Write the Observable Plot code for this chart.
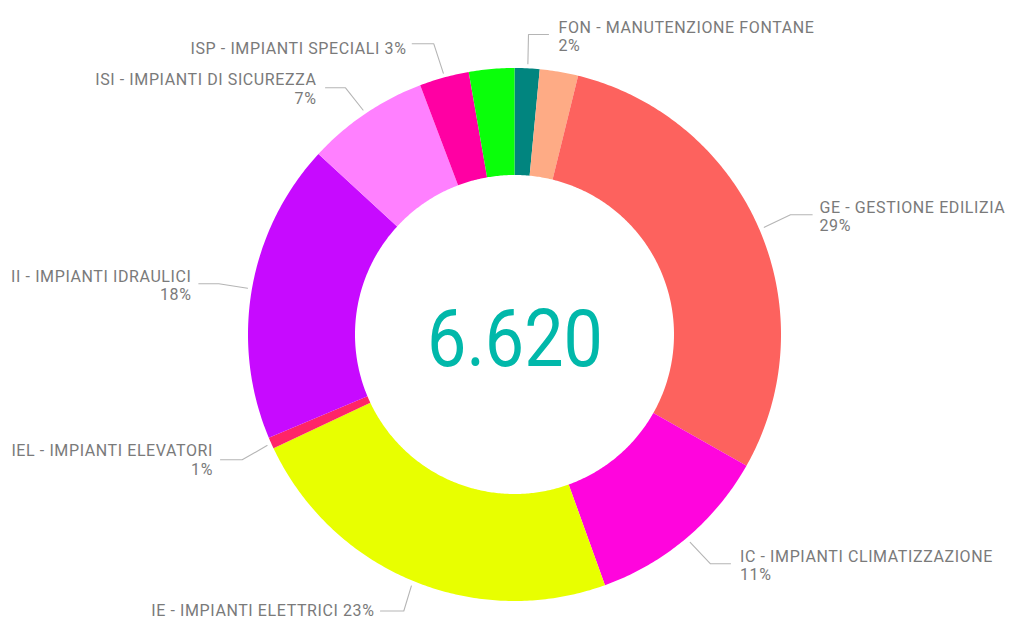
<!DOCTYPE html>
<html>
<head>
<meta charset="utf-8">
<script src="https://cdn.jsdelivr.net/npm/d3@7"></script>
<script src="https://cdn.jsdelivr.net/npm/@observablehq/plot@0.6"></script>
<style>
  html, body { margin: 0; padding: 0; background: #ffffff; }
  .lbl, .lbl text { letter-spacing: 0.6px; }
</style>
</head>
<body>
<div id="chart"></div>
<script>
// ---- data (clockwise from 12 o'clock) ----
const categories = [
  "FON - MANUTENZIONE FONTANE",
  "N.D. A",
  "GE - GESTIONE EDILIZIA",
  "IC - IMPIANTI CLIMATIZZAZIONE",
  "IE - IMPIANTI ELETTRICI",
  "IEL - IMPIANTI ELEVATORI",
  "II - IMPIANTI IDRAULICI",
  "ISI - IMPIANTI DI SICUREZZA",
  "ISP - IMPIANTI SPECIALI",
  "N.D. B"
];
const values = [100, 154, 1943, 748, 1555, 46, 1203, 490, 199, 182];
const labelShown = [true, false, true, true, true, true, true, true, true, false];

// ---- styles ----
const colors = ["#01857F", "#FEAB85", "#FD625E", "#FF05DD", "#E8FF00", "#FF2468", "#C70AFF", "#FF80FF", "#FF00A3", "#0AFF0A"];

// ---- layout ----
const W = 1009, H = 619;
const cx = 514.5, cy = 334.5, R = 266.5, r = 159.5;
const labelLayout = {
  "FON - MANUTENZIONE FONTANE":   {x: 558,   y: 19.3,  anchor: "start", inline: false, elbow: [528, 34],     end: [548, 34]},
  "GE - GESTIONE EDILIZIA":       {x: 819,   y: 199.3, anchor: "start", inline: false, elbow: [790, 214.3],  end: [811.7, 214.3]},
  "IC - IMPIANTI CLIMATIZZAZIONE":{x: 739.5, y: 548.3, anchor: "start", inline: false, elbow: [710, 563.3],  end: [730, 563.3]},
  "IE - IMPIANTI ELETTRICI":      {x: 374,   y: 602.5, anchor: "end",   inline: true,  elbow: [403.3, 610.5],end: [380, 610.5]},
  "IEL - IMPIANTI ELEVATORI":     {x: 212.5, y: 442.7, anchor: "end",   inline: false, elbow: [241.7, 459.3],end: [220, 459.3]},
  "II - IMPIANTI IDRAULICI":      {x: 191,   y: 268.3, anchor: "end",   inline: false, elbow: [218.3, 283.3],end: [198.3, 283.3]},
  "ISI - IMPIANTI DI SICUREZZA":  {x: 316,   y: 71.7,  anchor: "end",   inline: false, elbow: [345, 87.3],   end: [325, 87.3]},
  "ISP - IMPIANTI SPECIALI":      {x: 406,   y: 40,    anchor: "end",   inline: true,  elbow: [433.3, 43.3], end: [411.7, 43.3]}
};

const total = d3.sum(values);
const fmt = d3.formatLocale({decimal: ",", thousands: ".", grouping: [3], currency: ["€", ""]}).format(",d");

const arcs = d3.pie().sort(null).startAngle(0).endAngle(2 * Math.PI)(values);

// slice polygons (outer/inner edges) for Plot.area
const slicePts = [];
arcs.forEach((a, i) => {
  const n = Math.max(8, Math.ceil((a.endAngle - a.startAngle) / 0.01));
  for (let k = 0; k <= n; k++) {
    const t = a.startAngle + (a.endAngle - a.startAngle) * k / n;
    slicePts.push({
      key: categories[i], color: colors[i],
      x1: cx + R * Math.sin(t), y1: cy - R * Math.cos(t),
      x2: cx + r * Math.sin(t), y2: cy - r * Math.cos(t)
    });
  }
});

// labels + leaders
const labels = [];
const leaders = [];
arcs.forEach((a, i) => {
  if (!labelShown[i]) return;
  const name = categories[i];
  const L = labelLayout[name];
  const pct = Math.round(values[i] / total * 100) + "%";
  labels.push({x: L.x, y: L.y, anchor: L.anchor, text: L.inline ? name + " " + pct : name + "\n" + pct});
  const mid = (a.startAngle + a.endAngle) / 2;
  const rs = R + 5;
  leaders.push({key: name, x: cx + rs * Math.sin(mid), y: cy - rs * Math.cos(mid)});
  leaders.push({key: name, x: L.elbow[0], y: L.elbow[1]});
  leaders.push({key: name, x: L.end[0], y: L.end[1]});
});

const chart = Plot.plot({
  width: W, height: H,
  margin: 0,
  x: {domain: [0, W], range: [0, W], axis: null},
  y: {domain: [0, H], range: [0, H], axis: null},
  color: {type: "identity"},
  style: {background: "#ffffff"},
  marks: [
    Plot.area(slicePts, {x1: "x1", y1: "y1", x2: "x2", y2: "y2", z: "key", fill: "color", curve: "linear"}),
    Plot.line(leaders, {x: "x", y: "y", z: "key", stroke: "#b5b5b5", strokeWidth: 1.1, curve: "linear"}),
    Plot.text(labels.filter(d => d.anchor === "start"), {
      x: "x", y: "y", text: "text", textAnchor: "start", lineAnchor: "top", lineHeight: 1.15,
      fontSize: 16, fontFamily: "Roboto", fill: "#7a7a7a", className: "lbl"
    }),
    Plot.text(labels.filter(d => d.anchor === "end"), {
      x: "x", y: "y", text: "text", textAnchor: "end", lineAnchor: "top", lineHeight: 1.15,
      fontSize: 16, fontFamily: "Roboto", fill: "#7a7a7a", className: "lbl"
    }),
    Plot.text([{x: cx, y: 365, t: fmt(total)}], {
      x: "x", y: "y", text: "t", textAnchor: "middle", lineAnchor: "bottom",
      fontSize: 79, fontFamily: "Roboto", fill: "#01B8AA", className: "kpi"
    })
  ]
});
document.getElementById("chart").appendChild(chart);
chart.querySelectorAll(".kpi text").forEach(t => {
  t.setAttribute("textLength", "176");
  t.setAttribute("lengthAdjust", "spacingAndGlyphs");
});
</script>
</body>
</html>
